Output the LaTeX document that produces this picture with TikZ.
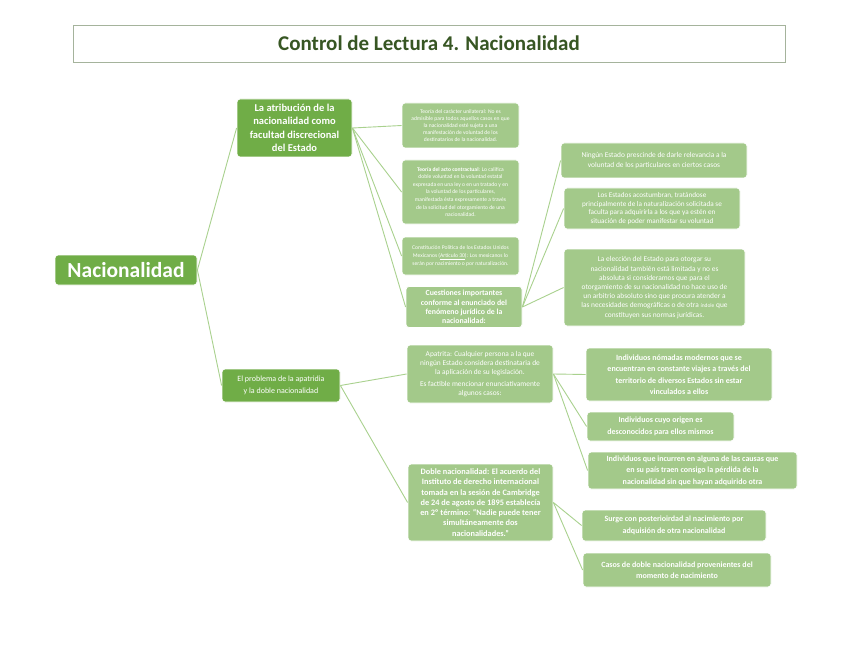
\documentclass[tikz,border=0pt]{standalone}
\usepackage{fontspec}
\setmainfont{Carlito}
\definecolor{dkg}{RGB}{112,173,71}
\definecolor{ltg}{RGB}{163,201,138}
\definecolor{lng}{RGB}{169,209,142}
\definecolor{ttl}{RGB}{55,86,35}
\newcommand{\fs}[2]{\fontsize{#1}{#2}\selectfont}
\begin{document}
\begin{tikzpicture}[x=1pt,y=-1pt,
  box/.style={rectangle,rounded corners=3pt,inner sep=1pt,align=center,text=white,draw=white,line width=0.8pt},
  mainbox/.style={box,fill=dkg},
  leaf/.style={box,fill=ltg},
  conn/.style={draw=lng,line width=0.9pt}]
\fill[white] (0,0) rectangle (848,655);
\useasboundingbox (0,0) rectangle (848,655);
\node[draw=ttl!45,line width=0.7pt,minimum width=712pt,minimum height=37pt,inner sep=0pt,text=ttl,font=\fs{21}{23}\bfseries] (title) at (429,43.5) {Control de Lectura 4. Nacionalidad};
\node[mainbox,minimum width=142pt,minimum height=30pt,font=\fs{21.5}{23}\bfseries] (nac) at (126,270) {Nacionalidad};
\node[mainbox,minimum width=115pt,minimum height=58pt,font=\fs{10.5}{13.3}\bfseries] (m1) at (294.5,128) {La atribución de la\\nacionalidad como\\facultad discrecional\\del Estado};
\node[mainbox,minimum width=118pt,minimum height=33pt,font=\fs{8}{12}] (m2) at (281,385.5) {El problema de la apatridia\\y la doble nacionalidad};
\node[leaf,minimum width=117pt,minimum height=45pt,font=\fs{5.6}{7}] (l1) at (460.5,125.5) {Teoría del carácter unilateral: No es\\admisible para todos aquellos casos en que\\la nacionalidad esté sujeta a una\\manifestación de voluntad de los\\destinatarios de la nacionalidad.};
\node[leaf,minimum width=117pt,minimum height=64pt,font=\fs{5.6}{7.6}] (l2) at (460.5,192) {\textbf{Teoría del acto contractual}: Lo califica\\doble voluntad en la voluntad estatal\\expresada en una ley o en un tratado y en\\la voluntad de los particulares,\\manifestada ésta expresamente a través\\de la solicitud del otorgamiento de una\\nacionalidad.};
\node[leaf,minimum width=117pt,minimum height=38pt,font=\fs{5.6}{8}] (l3) at (460.5,256) {Constitución Política de los Estados Unidos\\Mexicanos (\underline{Artículo 30}): Los mexicanos lo\\serán por nacimiento o por naturalización.};
\node[leaf,minimum width=116pt,minimum height=41pt,font=\fs{7.8}{9.4}\bfseries] (l4) at (464,307) {Cuestiones importantes\\conforme al enunciado del\\fenómeno jurídico de la\\nacionalidad:};
\node[leaf,minimum width=186pt,minimum height=35pt,font=\fs{7.4}{9.5}] (r1) at (654,160.5) {Ningún Estado prescinde de darle relevancia a la\\voluntad de los particulares en ciertos casos};
\node[leaf,minimum width=176pt,minimum height=41pt,font=\fs{7.2}{8.6}] (r2) at (652,208.5) {Los Estados acostumbran, tratándose\\principalmente de la naturalización solicitada se\\faculta para adquirirla a los que ya estén en\\situación de poder manifestar su voluntad};
\node[leaf,minimum width=181pt,minimum height=77pt,font=\fs{7.4}{9.2}] (r3) at (654.5,287.5) {La elección del Estado para otorgar su\\nacionalidad también está limitada y no es\\absoluta si consideramos que para el\\otorgamiento de su nacionalidad no hace uso de\\un arbitrio absoluto sino que procura atender a\\las necesidades demográficas o de otra {\fs{5.5}{6}índole} que\\constituyen sus normas jurídicas.};
\node[leaf,minimum width=146pt,minimum height=58pt,font=\fs{7.4}{9}] (a1) at (480,374) {Apatrita: Cualquier persona a la que\\ningún Estado considera destinataria de\\la aplicación de su legislación.\\[3pt]Es factible mencionar enunciativamente\\algunos casos:};
\node[leaf,minimum width=145pt,minimum height=77pt,font=\fs{8.3}{10.3}\bfseries] (a2) at (480.5,502.5) {Doble nacionalidad: El acuerdo del\\Instituto de derecho internacional\\tomada en la sesión de Cambridge\\de 24 de agosto de 1895 establecía\\en 2º término: “Nadie puede tener\\simultáneamente dos\\nacionalidades.”};
\node[leaf,minimum width=186pt,minimum height=53pt,font=\fs{8}{11.5}\bfseries] (b1) at (679,374.5) {Individuos nómadas modernos que se\\encuentran en constante viajes a través del\\territorio de diversos Estados sin estar\\vinculados a ellos};
\node[leaf,minimum width=147pt,minimum height=29pt,font=\fs{8}{11.5}\bfseries] (b2) at (660.5,426.5) {Individuos cuyo origen es\\desconocidos para ellos mismos};
\node[leaf,minimum width=209pt,minimum height=37pt,font=\fs{8}{11.5}\bfseries] (b3) at (692.5,470.5) {Individuos que incurren en alguna de las causas que\\en su país traen consigo la pérdida de la\\nacionalidad sin que hayan adquirido otra};
\node[leaf,minimum width=184pt,minimum height=31pt,font=\fs{8}{11.5}\bfseries] (c1) at (674,525.5) {Surge con posterioirdad al nacimiento por\\adquisión de otra nacionalidad};
\node[leaf,minimum width=188pt,minimum height=34pt,font=\fs{8}{11.5}\bfseries] (c2) at (677,570) {Casos de doble nacionalidad provenientes del\\momento de nacimiento};
% connectors
\draw[conn] (nac.east) -- (m1.west);
\draw[conn] (nac.east) -- (m2.west);
\draw[conn] (m1.east) -- (l1.west);
\draw[conn] (m1.east) -- (l2.west);
\draw[conn] (m1.east) -- (l3.west);
\draw[conn] (m1.east) -- (l4.west);
\draw[conn] (l4.east) -- (r1.west);
\draw[conn] (l4.east) -- (r2.west);
\draw[conn] (l4.east) -- (r3.west);
\draw[conn] (m2.east) -- (a1.west);
\draw[conn] (m2.east) -- (a2.west);
\draw[conn] (a1.east) -- (b1.west);
\draw[conn] (a1.east) -- (b2.west);
\draw[conn] (a1.east) -- (b3.west);
\draw[conn] (a2.east) -- (c1.west);
\draw[conn] (a2.east) -- (c2.west);
\end{tikzpicture}
\end{document}
